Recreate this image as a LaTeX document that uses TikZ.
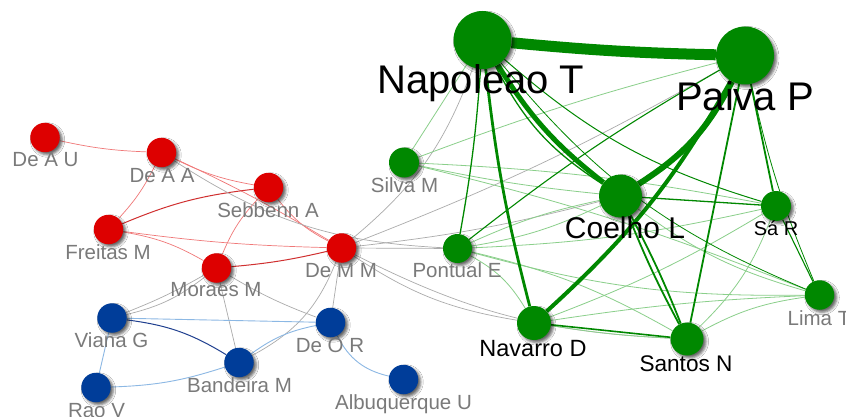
\documentclass[tikz,border=0pt]{standalone}
\usepackage{fontspec}
\setmainfont{Liberation Sans}
\usetikzlibrary{shadows.blur}

\definecolor{nred}{HTML}{DD0000}
\definecolor{nblue}{HTML}{003D99}
\definecolor{ngreen}{HTML}{008800}
\definecolor{lgreen}{HTML}{8ACF8A}
\definecolor{egray}{HTML}{ABABAB}
\definecolor{lred}{HTML}{F07878}
\definecolor{dred}{HTML}{D03030}
\definecolor{lblue}{HTML}{8CB8E4}
\definecolor{dblue}{HTML}{1F3F8F}
\definecolor{labgray}{HTML}{7A7A7A}

\tikzset{
  spot/.style={circle, inner sep=0pt, minimum size=#1},
  vtx/.style={circle, inner sep=0pt, minimum size=#1,
    blur shadow={shadow xshift=2.5pt, shadow yshift=-2.5pt,
                 shadow blur radius=2.5pt, shadow opacity=60}},
  rnode/.style={vtx=29.5pt, fill=nred},
  bnode/.style={vtx=29.5pt, fill=nblue},
  gnode/.style={vtx=#1, fill=ngreen},
  lab/.style={anchor=base, inner sep=0pt, text=labgray,
    font=\fontsize{20.5}{22}\selectfont},
  blab/.style={anchor=base, inner sep=0pt, text=black,
    font=\fontsize{#1}{#1}\selectfont},
  redl/.style={draw=lred, line width=0.7pt},
  redd/.style={draw=dred, line width=1pt},
  grayl/.style={draw=egray, line width=0.7pt},
  bluel/.style={draw=lblue, line width=0.9pt},
  blued/.style={draw=dblue, line width=1pt},
  gl/.style={draw=lgreen, line width=0.8pt},
  gw/.style={draw=ngreen, line width=#1},
}

\begin{document}
\begin{tikzpicture}[x=1pt, y=-1pt]
\clip (0,0) rectangle (846,417);
\fill[white] (0,0) rectangle (846,417);

% ---- vertex positions (invisible anchors for the edges) ----
\path
  (45,137.5)    node[spot=29.5pt] (deau) {}
  (161.5,152.5) node[spot=29.5pt] (deaa) {}
  (268.5,187.5) node[spot=29.5pt] (seb) {}
  (108.5,229.5) node[spot=29.5pt] (fre) {}
  (216.5,268)   node[spot=29.5pt] (mor) {}
  (341.5,248)   node[spot=29.5pt] (demm) {}
  (404,162.5)   node[spot=30pt] (silva) {}
  (457.5,248.5) node[spot=29pt] (pont) {}
  (482.5,40)    node[spot=58pt] (nap) {}
  (745,55.5)    node[spot=58pt] (paiva) {}
  (620.5,196)   node[spot=43pt] (coel) {}
  (776,206)     node[spot=30pt] (sar) {}
  (819.5,295)   node[spot=29.5pt] (lima) {}
  (534,323)     node[spot=34pt] (nav) {}
  (687,339)     node[spot=33pt] (santos) {}
  (112,318)     node[spot=29.5pt] (viana) {}
  (330.5,322.5) node[spot=29.5pt] (deor) {}
  (239,362.5)   node[spot=29.5pt] (band) {}
  (96,387.5)    node[spot=29.5pt] (rao) {}
  (403.5,379.5) node[spot=29.5pt] (albu) {};

% ---- red cluster edges ----
\draw[redl] (deau) to[bend right=5] (deaa);
\draw[redl] (deaa) to[bend right=8] (seb);
\draw[redl] (deaa) to[bend left=8] (fre);
\draw[redl] (deaa) to[bend left=3] (demm);
\draw[redd] (fre) to[bend left=8] (seb);
\draw[redl] (fre) to[bend right=3] (demm);
\draw[redl] (fre) to[bend left=10] (mor);
\draw[redl] (mor) to[bend left=10] (seb);
\draw[redd] (mor) to[bend right=4] (demm);
\draw[redl] (seb) to[bend right=12] (demm);

% ---- links between groups ----
\draw[grayl] (deaa) to[bend right=15] (pont);
\draw[grayl] (demm) to[bend right=15] (nap);
\draw[grayl] (demm) to[bend right=4] (paiva);
\draw[grayl] (demm) -- (pont);
\draw[grayl] (demm) to[bend right=4] (coel);
\draw[grayl] (demm) to[bend right=12] (santos);
\draw[grayl] (demm) to[bend right=12] (nav);
\draw[grayl] (demm) -- (deor);
\draw[grayl] (demm) to[bend left=20] (band);
\draw[grayl] (mor) to[bend right=5] (deor);
\draw[grayl] (mor) -- (band);
\draw[grayl] (viana) to[bend right=12] (mor);
\draw[grayl] (viana) to[bend right=4] (mor);

% ---- blue cluster edges ----
\draw[bluel] (viana) -- (deor);
\draw[blued] (viana) to[bend left=12] (band);
\draw[bluel] (viana) -- (rao);
\draw[bluel] (rao) to[bend right=8] (band);
\draw[bluel] (band) to[bend left=12] (deor);
\draw[bluel] (deor) to[bend right=25] (albu);

% ---- green cluster edges ----
\draw[gl] (nap) -- (silva);
\draw[gl] (paiva) to[bend right=3] (silva);
\draw[gl] (silva) to[bend right=3] (coel);
\draw[gl] (silva) to[bend left=4] (sar);
\draw[gl] (silva) to[bend left=4] (lima);
\draw[gl] (coel) to[bend left=8] (pont);
\draw[gl] (coel) to[bend right=6] (pont);
\draw[gl] (coel) to[bend right=10] (lima);
\draw[gl] (sar) to[bend left=12] (santos);
\draw[gl] (sar) to[bend left=5] (nav);
\draw[gl] (pont) to[bend right=5] (sar);
\draw[gl] (lima) to[bend right=10] (santos);
\draw[gl] (lima) to[bend right=3] (nav);
\draw[gl] (pont) to[bend right=8] (lima);
\draw[gl] (nav) to[bend right=3] (santos);
\draw[gl] (pont) to[bend left=15] (nav);
\draw[gl] (pont) to[bend left=8] (santos);

\draw[gw=1.3pt] (nap) to[bend left=3] (pont);
\draw[gw=1pt] (nap) to[bend right=12] (sar);
\draw[gw=0.8pt] (nap) to[bend right=14] (lima);
\draw[gw=1.1pt] (paiva) to[bend right=4] (pont);
\draw[gw=0.8pt] (paiva) to[bend right=5] (lima);
\draw[gw=1.8pt] (paiva) -- (santos);
\draw[gw=1.8pt] (paiva) -- (sar);
\draw[gw=1.3pt] (coel) -- (sar);
\draw[gw=1.1pt] (sar) -- (lima);
\draw[gw=1.8pt] (coel) to[bend left=3] (santos);
\draw[gw=1.8pt] (coel) to[bend right=3] (santos);
\draw[gw=1.6pt] (nav) -- (santos);
\draw[gw=2.8pt] (nap) to[bend right=4] (nav);
\draw[gw=4pt] (paiva) to[bend left=9] (nav);
\draw[gw=1.3pt] (nap) to[bend right=15] (coel);
\draw[gw=5pt] (nap) to[bend right=10] (coel);
\draw[gw=6pt] (paiva) to[bend left=15] (coel);
\draw[gw=11pt] (nap) to[bend right=2] (paiva);

% ---- vertex discs ----
\node[rnode] (d-deau) at (deau) {};
\node[rnode] (d-deaa) at (deaa) {};
\node[rnode] (d-seb) at (seb) {};
\node[rnode] (d-fre) at (fre) {};
\node[rnode] (d-mor) at (mor) {};
\node[rnode] (d-demm) at (demm) {};
\node[bnode] (d-viana) at (viana) {};
\node[bnode] (d-deor) at (deor) {};
\node[bnode] (d-band) at (band) {};
\node[bnode] (d-rao) at (rao) {};
\node[bnode] (d-albu) at (albu) {};
\node[gnode=30pt] (d-silva) at (silva) {};
\node[gnode=29pt] (d-pont) at (pont) {};
\node[gnode=58pt] (d-nap) at (nap) {};
\node[gnode=58pt] (d-paiva) at (paiva) {};
\node[gnode=43pt] (d-coel) at (coel) {};
\node[gnode=30pt] (d-sar) at (sar) {};
\node[gnode=29.5pt] (d-lima) at (lima) {};
\node[gnode=34pt] (d-nav) at (nav) {};
\node[gnode=33pt] (d-santos) at (santos) {};

% ---- labels ----
\node[lab] (l-deau) at (45.5,166.8) {De A U};
\node[lab] (l-deaa) at (162,182.8) {De A A};
\node[lab] (l-seb) at (268,217.3) {Sebbenn A};
\node[lab] (l-fre) at (108,259.3) {Freitas M};
\node[lab] (l-mor) at (216,296.8) {Moraes M};
\node[lab] (l-demm) at (341,277.8) {De M M};
\node[lab] (l-silva) at (404.5,192.8) {Silva M};
\node[lab] (l-pont) at (457,277.8) {Pontual E};
\node[lab] (l-lima) at (819,325.8) {Lima T};
\node[lab] (l-viana) at (111.5,347.8) {Viana G};
\node[lab] (l-deor) at (330,352.8) {De O R};
\node[lab] (l-band) at (239.5,392.8) {Bandeira M};
\node[lab] (l-rao) at (96.5,417.3) {Rao V};
\node[lab] (l-albu) at (403.5,409.8) {Albuquerque U};
\node[blab=40] (l-nap) at (481,93.3) {Napoleao T};
\node[blab=40] (l-paiva) at (745,110.3) {Paiva P};
\node[blab=30] (l-coel) at (625,238.7) {Coelho L};
\node[blab=20] (l-sar) at (776,235.7) {Sá R};
\node[blab=23.5] (l-nav) at (533,356) {Navarro D};
\node[blab=22.6] (l-santos) at (686,371) {Santos N};
\end{tikzpicture}
\end{document}
